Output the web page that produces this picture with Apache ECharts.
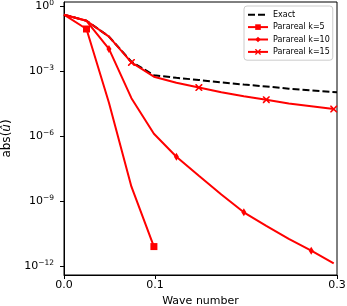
<!DOCTYPE html>
<html>
<head>
<meta charset="utf-8">
<script src="https://cdn.jsdelivr.net/npm/echarts@6/dist/echarts.min.js"></script>
<style>html,body{margin:0;padding:0;background:#fff}#c{width:347px;height:306px}</style>
</head>
<body>
<div id="c"></div>
<script>
// Wave numbers (x) for the Parareal iterates and the exact solution
const waveNumbers = [0, 0.0247, 0.0494, 0.0741, 0.0988, 0.1235, 0.1482, 0.1729, 0.1976, 0.2223, 0.247, 0.2717, 0.2964];
const exactWaveNumbers = [0, 0.0247, 0.0494, 0.0741, 0.0988, 0.1235, 0.1482, 0.1729, 0.1976, 0.2223, 0.247, 0.2717, 0.3];
const exactValues = [0.398, 0.209, 0.0389, 2.69e-3, 6.46e-4, 4.90e-4, 3.89e-4, 3.02e-4, 2.40e-4, 1.95e-4, 1.55e-4, 1.29e-4, 1.05e-4];
const k5Values = [0.398, 0.0871, 3.47e-5, 4.68e-9, 8.13e-12];
const k10Values = [0.398, 0.209, 0.0105, 5.62e-5, 1.29e-6, 1.12e-7, 1.48e-8, 2.04e-9, 3.09e-10, 7.24e-11, 1.82e-11, 5.25e-12, 1.38e-12];
const k15Values = [0.398, 0.209, 0.0389, 2.51e-3, 5.50e-4, 2.88e-4, 1.74e-4, 1.05e-4, 6.92e-5, 4.79e-5, 3.24e-5, 2.40e-5, 1.78e-5];
const k5Markers = [1, 4];
const k10Markers = [2, 5, 8, 11];
const k15Markers = [3, 6, 9, 12];
const xTicks = [0, 0.1, 0.3];
const yTicks = [1e-12, 1e-9, 1e-6, 1e-3, 1];
const seriesNames = ['Exact', 'Parareal k=5', 'Parareal k=10', 'Parareal k=15'];

const FONT = 'DejaVu Sans';
const RED = '#ff0000';
const SYM_SQUARE = 'rect';
const SYM_DIAMOND = 'path://M0,-10 L5.5,0 L0,10 L-5.5,0 Z';
const SYM_X = 'path://M0,0 L1.6,0 L5,3.4 L8.4,0 L10,0 L10,1.6 L6.6,5 L10,8.4 L10,10 L8.4,10 L5,6.6 L1.6,10 L0,10 L0,8.4 L3.4,5 L0,1.6 Z';

function pairs(xs, ys, marks) {
  return ys.map((v, i) => {
    const d = { value: [xs[i], v] };
    if (marks && marks.indexOf(i) < 0) d.symbol = 'none';
    return d;
  });
}

const chart = echarts.init(document.getElementById('c'), null, { renderer: 'canvas' });
const sup = n => String(n).replace('-', '\u2212');

chart.setOption({
  animation: false,
  backgroundColor: '#fff',
  textStyle: { fontFamily: FONT },
  grid: { left: 64, right: 10, top: 2, bottom: 31, show: true, borderColor: '#000', borderWidth: 1,
    backgroundColor: 'transparent', containLabel: false, outerBoundsMode: 'none' },
  legend: {
    data: seriesNames,
    orient: 'vertical',
    left: 244, top: 6,
    padding: [4.7, 3, 4.3, 3],
    itemWidth: 20, itemHeight: 7, itemGap: 4.4,
    backgroundColor: 'rgba(255,255,255,0.8)',
    borderColor: '#cccccc', borderWidth: 1, borderRadius: 3,
    textStyle: { fontFamily: FONT, fontSize: 8, color: '#000', padding: [0, 0, 0, 0] },
    itemStyle: { borderWidth: 0 }
  },
  xAxis: {
    type: 'value', min: 0, max: 0.3,
    name: 'Wave number', nameLocation: 'middle', nameGap: 17,
    nameTextStyle: { fontFamily: FONT, fontSize: 11, color: '#000' },
    axisLine: { show: true, lineStyle: { color: '#000', width: 1 } },
    axisTick: { show: true, length: 4, customValues: xTicks, lineStyle: { color: '#000' } },
    axisLabel: { customValues: xTicks, margin: 5, fontFamily: FONT, fontSize: 11, color: '#000', formatter: v => v.toFixed(1) },
    splitLine: { show: false }
  },
  yAxis: {
    type: 'log', logBase: 10, min: 3.98e-13, max: 1.53,
    name: '{a|abs(}{i|\u00fb}{a|)}', nameLocation: 'middle', nameGap: 47, nameRotate: 90,
    nameTextStyle: { fontFamily: FONT, fontSize: 12, color: '#000',
      rich: { a: { fontFamily: FONT, fontSize: 12, color: '#000' }, i: { fontFamily: FONT, fontSize: 12, fontStyle: 'italic', color: '#000' } } },
    axisLine: { show: true, lineStyle: { color: '#000', width: 1 } },
    axisTick: { show: true, length: 4, customValues: yTicks, lineStyle: { color: '#000' } },
    minorTick: { show: false },
    axisLabel: {
      customValues: yTicks, margin: 10, color: '#000',
      formatter: v => '{b|10}{s|' + sup(Math.round(Math.log10(v))) + '}',
      rich: {
        b: { fontFamily: FONT, fontSize: 11, color: '#000' },
        s: { fontFamily: FONT, fontSize: 7.5, color: '#000', padding: [0, 0, 6, 0] }
      }
    },
    splitLine: { show: false }
  },
  series: [
    { name: seriesNames[0], type: 'line', data: pairs(exactWaveNumbers, exactValues, null), showSymbol: false, symbol: 'rect', symbolSize: 1,
      lineStyle: { color: '#000', width: 2, type: [7, 3] }, itemStyle: { color: 'rgba(0,0,0,0)' }, z: 2 },
    { name: seriesNames[1], type: 'line', data: pairs(waveNumbers, k5Values, k5Markers), symbol: SYM_SQUARE, symbolSize: 7,
      lineStyle: { color: RED, width: 2 }, itemStyle: { color: RED }, z: 3 },
    { name: seriesNames[2], type: 'line', data: pairs(waveNumbers, k10Values, k10Markers), symbol: SYM_DIAMOND, symbolSize: [5, 8],
      lineStyle: { color: RED, width: 2 }, itemStyle: { color: RED }, z: 4 },
    { name: seriesNames[3], type: 'line', data: pairs(waveNumbers, k15Values, k15Markers), symbol: SYM_X, symbolSize: 7,
      lineStyle: { color: RED, width: 2 }, itemStyle: { color: RED }, z: 5 }
  ]
});
</script>
</body>
</html>
